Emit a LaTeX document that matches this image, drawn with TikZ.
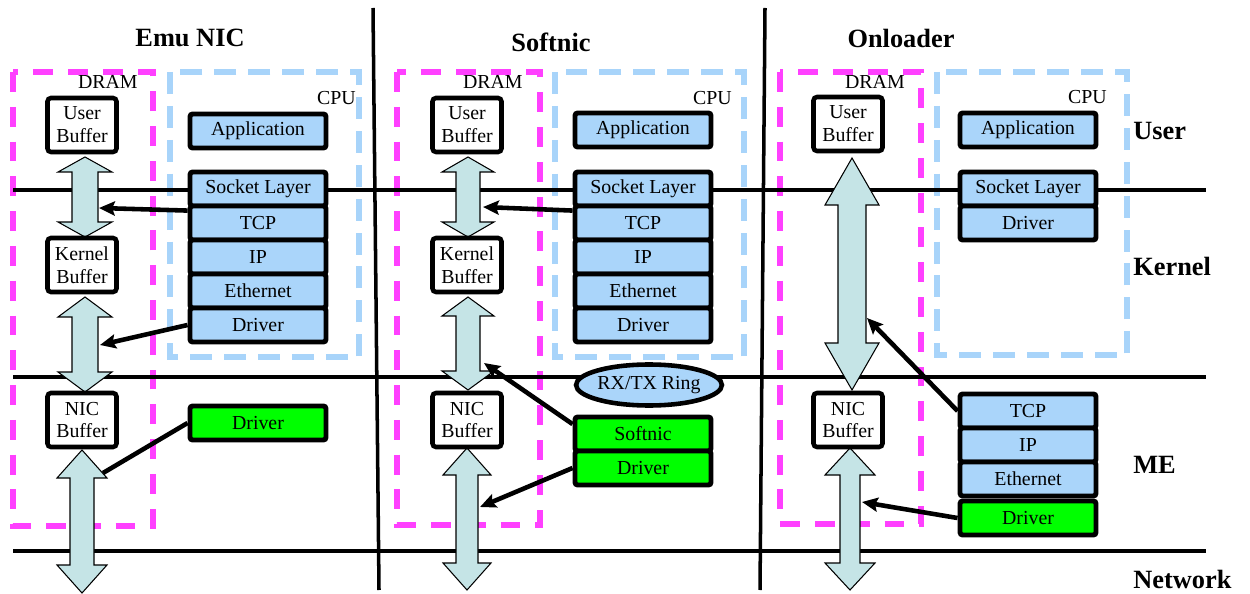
\documentclass[tikz,border=0pt]{standalone}
\usepackage{fontspec}
\setmainfont{Liberation Serif}
\usetikzlibrary{arrows.meta,shapes.geometric}
\definecolor{memmag}{RGB}{255,64,255}
\definecolor{cpublue}{RGB}{168,212,250}
\definecolor{layerblue}{RGB}{170,213,250}
\definecolor{megreen}{RGB}{0,255,0}
\definecolor{arrowcyan}{RGB}{197,228,230}
% #1 centre x, #2 top tip y, #3 bottom tip y, #4 head length, #5 head half width, #6 shaft half width
\newcommand\dbarrow[6]{%
  \draw[dbl] (#1,#2) -- ({#1+#5},{#2+#4}) -- ({#1+#6},{#2+#4}) -- ({#1+#6},{#3-#4}) -- ({#1+#5},{#3-#4})
   -- (#1,#3) -- ({#1-#5},{#3-#4}) -- ({#1-#6},{#3-#4}) -- ({#1-#6},{#2+#4}) -- ({#1-#5},{#2+#4}) -- cycle;}
\begin{document}
\begin{tikzpicture}[x=0.02cm,y=-0.02cm,
  every node/.style={font=\fontsize{11.3}{13}\selectfont, inner sep=0pt},
  dram/.style={draw=memmag, line width=3.4pt, dash pattern=on 11.3pt off 8.5pt},
  cpu/.style={draw=cpublue, line width=3pt, dash pattern=on 12.5pt off 6.8pt},
  layer/.style={draw, line width=2.8pt, rounded corners=1.5pt, fill=layerblue, minimum width=2.72cm, minimum height=0.68cm},
  gl/.style={layer, fill=megreen},
  buf/.style={draw, line width=2.6pt, rounded corners=2pt, fill=white, minimum width=1.38cm, minimum height=1.08cm, align=center},
  dbl/.style={draw, line width=0.6pt, fill=arrowcyan},
  ptr/.style={line width=2.6pt, -{Stealth[length=9pt,width=8pt,inset=1.5pt]}},
  plain/.style={line width=2.6pt},
  level/.style={line width=2pt},
  divider/.style={line width=2pt},
  title/.style={font=\fontsize{15}{18}\selectfont\bfseries},
  ring/.style={ellipse, draw, line width=2.6pt, fill=layerblue, minimum width=2.34cm, minimum height=0.82cm}]
\useasboundingbox (0,0) rectangle (1250,594);

% dashed regions
\draw[dram] (13,72) rectangle (153,526);
\draw[cpu] (170,72) rectangle (359,357);
\draw[dram] (397,72) rectangle (540,525);
\draw[cpu] (555,72) rectangle (744,357);
\draw[dram] (780,72) rectangle (921,524);
\draw[cpu] (937,72) rectangle (1127,355);

% level lines and dividers
\draw[level] (13,190) -- (1206,190);
\draw[level] (13,377) -- (1206,377);
\draw[level] (13,551) -- (1206,551);
\draw[divider] (373,8) -- (379,590);
\draw[divider] (765,8) -- (760,590);

% titles and labels
\node[title] (t1) at (190,38) {Emu NIC};
\node[title] (t2) at (551,42) {Softnic};
\node[title] (t3) at (901,38) {Onloader};
\node[title, anchor=west] (lu) at (1133,131) {User};
\node[title, anchor=west] (lk) at (1133,266) {Kernel};
\node[title, anchor=west] (lm) at (1133,465) {ME};
\node[title, anchor=west] (ln) at (1133,579) {Network};

\node[anchor=east] (dram1) at (138,82) {DRAM};
\node[anchor=east] (cpu1) at (356,98) {CPU};
\node[anchor=east] (dram2) at (523,82) {DRAM};
\node[anchor=east] (cpu2) at (732,98) {CPU};
\node[anchor=east] (dram3) at (905,82) {DRAM};
\node[anchor=east] (cpu3) at (1107,97) {CPU};

% double arrows (data movement)
\dbarrow{85}{157}{237}{15}{27}{13}
\dbarrow{85}{297}{392}{20}{27}{13}
\dbarrow{82}{450}{593}{28}{25}{12}
\dbarrow{468}{157}{237}{15}{26}{12}
\dbarrow{468}{297}{390}{19}{26}{12}
\dbarrow{467}{448}{590}{27}{24}{11}
\dbarrow{852}{158}{390}{47}{27}{14}
\dbarrow{850}{448}{590}{27}{25}{10}

% buffers
\node[buf] (ub1) at (82,125) {User\\Buffer};
\node[buf] (kb1) at (82,265) {Kernel\\Buffer};
\node[buf] (nb1) at (82,420) {NIC\\Buffer};
\node[buf] (ub2) at (467,125) {User\\Buffer};
\node[buf] (kb2) at (467,265) {Kernel\\Buffer};
\node[buf] (nb2) at (467,420) {NIC\\Buffer};
\node[buf] (ub3) at (848,124) {User\\Buffer};
\node[buf] (nb3) at (848,420) {NIC\\Buffer};

% Emu NIC stack
\node[layer] (app1) at (258,131) {Application};
\node[layer] (sock1) at (258,189) {Socket Layer};
\node[layer] (tcp1) at (258,223) {TCP};
\node[layer] (ip1) at (258,257) {IP};
\node[layer] (eth1) at (258,291) {Ethernet};
\node[layer] (drv1) at (258,325) {Driver};
\node[gl] (gdrv1) at (258,423) {Driver};

% Softnic stack
\node[layer] (app2) at (643,130) {Application};
\node[layer] (sock2) at (643,189) {Socket Layer};
\node[layer] (tcp2) at (643,223) {TCP};
\node[layer] (ip2) at (643,257) {IP};
\node[layer] (eth2) at (643,291) {Ethernet};
\node[layer] (drv2) at (643,325) {Driver};
\node[ring] (ring2) at (649,385) {RX/TX Ring};
\node[gl] (soft2) at (643,434) {Softnic};
\node[gl] (gdrv2) at (643,468) {Driver};

% Onloader stack
\node[layer] (app3) at (1028,130) {Application};
\node[layer] (sock3) at (1028,189) {Socket Layer};
\node[layer] (drv3) at (1028,223) {Driver};
\node[layer] (tcp3) at (1028,411) {TCP};
\node[layer] (ip3) at (1028,445) {IP};
\node[layer] (eth3) at (1028,479) {Ethernet};
\node[gl] (gdrv3) at (1028,518) {Driver};

% connector end points on the data arrows
\coordinate (e1a) at (99,208);
\coordinate (e1b) at (100,345);
\coordinate (e1c) at (103,473);
\coordinate (e2a) at (483,207);
\coordinate (e2b) at (484,363);
\coordinate (e2c) at (480,507);
\coordinate (e3a) at (867,318);
\coordinate (e3b) at (862,502);

% pointers
\draw[ptr] (tcp1.170) -- (e1a);
\draw[ptr] (drv1.west) -- (e1b);
\draw[plain] (gdrv1.west) -- (e1c);
\draw[ptr] (tcp2.170) -- (e2a);
\draw[ptr] (soft2.172) -- (e2b);
\draw[ptr] (gdrv2.west) -- (e2c);
\draw[ptr] (tcp3.west) -- (e3a);
\draw[ptr] (gdrv3.west) -- (e3b);
\end{tikzpicture}
\end{document}
